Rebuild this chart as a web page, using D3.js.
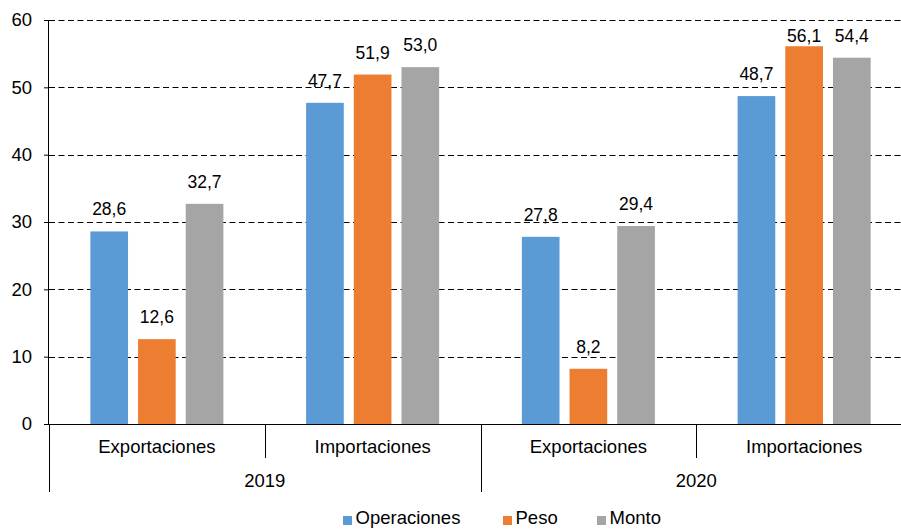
<!DOCTYPE html>
<html>
<head>
<meta charset="utf-8">
<script src="https://cdn.jsdelivr.net/npm/d3@7"></script>
<style>
  html, body { margin: 0; padding: 0; background: #fff; }
  svg { display: block; font-family: "Liberation Sans", Arial, sans-serif; }
</style>
</head>
<body>
<svg id="chart" width="901" height="529"></svg>
<script>
// Categories (inner: tipo, outer: año)
const years = ["2019", "2020"];
const kinds = ["Exportaciones", "Importaciones"];
const seriesNames = ["Operaciones", "Peso", "Monto"];
const seriesColors = ["#5B9BD5", "#ED7D31", "#A5A5A5"];

// Values per series, in order: 2019 Exp, 2019 Imp, 2020 Exp, 2020 Imp
const operaciones = [28.6, 47.7, 27.8, 48.7];
const peso = [12.6, 51.9, 8.2, 56.1];
const monto = [32.7, 53.0, 29.4, 54.4];

const yTicks = [0, 10, 20, 30, 40, 50, 60];

const seriesValues = [operaciones, peso, monto];
const groups = [];
years.forEach(yr => kinds.forEach(k => groups.push({ key: yr + "|" + k, year: yr, kind: k })));

const svg = d3.select("#chart");
const plotLeft = 49, plotRight = 912, plotTop = 20, plotBottom = 424;

const y = d3.scaleLinear().domain([0, 60]).range([plotBottom, plotTop]);
const x0 = d3.scaleBand().domain(groups.map(g => g.key)).range([plotLeft, plotRight]).padding(0);
const x1 = d3.scaleBand().domain(seriesNames).range([0, x0.bandwidth()])
  .paddingInner(0.21).paddingOuter(0.867);
const color = d3.scaleOrdinal().domain(seriesNames).range(seriesColors);
const fmt = v => d3.format(".1f")(v).replace(".", ",");

// Dashed gridlines
svg.append("g")
  .selectAll("line")
  .data(yTicks.filter(t => t > 0))
  .join("line")
  .attr("x1", plotLeft).attr("x2", plotRight)
  .attr("y1", d => Math.round(y(d)) + 0.5).attr("y2", d => Math.round(y(d)) + 0.5)
  .attr("stroke", "#000").attr("stroke-width", 1)
  .attr("stroke-dasharray", "6,3.5");

// Bars
const gGroups = svg.append("g")
  .selectAll("g")
  .data(groups)
  .join("g")
  .attr("transform", d => `translate(${x0(d.key)},0)`);

gGroups.selectAll("rect")
  .data((d, gi) => seriesNames.map((s, si) => ({ s, v: seriesValues[si][gi] })))
  .join("rect")
  .attr("x", d => x1(d.s))
  .attr("width", x1.bandwidth())
  .attr("y", d => y(d.v))
  .attr("height", d => y(0) - y(d.v))
  .attr("fill", d => color(d.s));

// Value labels
gGroups.selectAll("text")
  .data((d, gi) => seriesNames.map((s, si) => ({ s, v: seriesValues[si][gi] })))
  .join("text")
  .attr("x", d => x1(d.s) + x1.bandwidth() / 2)
  .attr("y", d => Math.max(y(d.v) - 16, plotTop + 22))
  .attr("text-anchor", "middle")
  .attr("font-size", 17.5)
  .attr("fill", "#000")
  .text(d => fmt(d.v));

// Y axis
const yAxis = svg.append("g")
  .attr("transform", `translate(${plotLeft},0)`)
  .call(d3.axisLeft(y).tickValues(yTicks).tickSize(5).tickPadding(12).tickFormat(d3.format("d")));
yAxis.select(".domain").attr("stroke", "#000").attr("d", `M-0.5,${plotTop}V${plotBottom}`);
yAxis.selectAll(".tick line").attr("stroke", "#000");
yAxis.selectAll(".tick text").attr("font-size", 18.5).attr("fill", "#000")
  .attr("font-family", "Liberation Sans, Arial, sans-serif");

// Category axis line
svg.append("line")
  .attr("x1", plotLeft).attr("x2", plotRight)
  .attr("y1", plotBottom + 0.5).attr("y2", plotBottom + 0.5)
  .attr("stroke", "#000");

// Separators between categories: short between kinds, long between years
const sepG = svg.append("g").attr("stroke", "#000");
groups.forEach((g, i) => {
  const xs = Math.round(x0(g.key)) + 0.5;
  const long = i % kinds.length === 0;
  sepG.append("line")
    .attr("x1", xs).attr("x2", xs)
    .attr("y1", plotBottom).attr("y2", long ? 492 : 458);
});

// Inner category labels
svg.append("g")
  .selectAll("text")
  .data(groups)
  .join("text")
  .attr("x", d => x0(d.key) + x0.bandwidth() / 2)
  .attr("y", 453)
  .attr("text-anchor", "middle")
  .attr("font-size", 18.5)
  .attr("fill", "#000")
  .text(d => d.kind);

// Year labels
svg.append("g")
  .selectAll("text")
  .data(years)
  .join("text")
  .attr("x", yr => {
    const ks = groups.filter(g => g.year === yr).map(g => g.key);
    return (x0(ks[0]) + x0(ks[ks.length - 1]) + x0.bandwidth()) / 2;
  })
  .attr("y", 487)
  .attr("text-anchor", "middle")
  .attr("font-size", 18.5)
  .attr("fill", "#000")
  .text(d => d);

// Legend
const legendX = [343, 503, 597];
const legend = svg.append("g")
  .selectAll("g")
  .data(seriesNames)
  .join("g")
  .attr("transform", (d, i) => `translate(${legendX[i]},0)`);
legend.append("rect")
  .attr("x", 0).attr("y", 516).attr("width", 9).attr("height", 9)
  .attr("fill", d => color(d));
legend.append("text")
  .attr("x", 12.5).attr("y", 524)
  .attr("font-size", 18.5)
  .attr("fill", "#000")
  .text(d => d);
</script>
</body>
</html>
